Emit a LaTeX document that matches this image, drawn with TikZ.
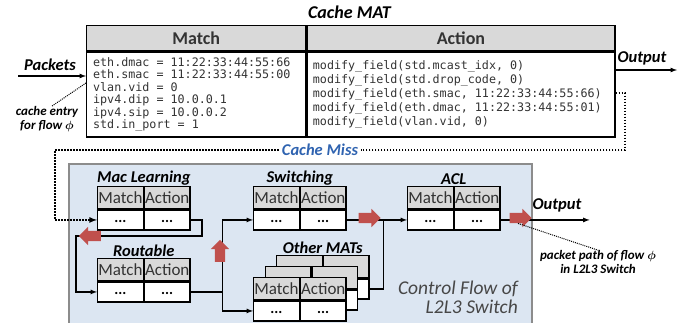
\documentclass[tikz,border=0pt]{standalone}
\usepackage{amsmath}
\usepackage{fontspec}
\setmainfont{Carlito}
\newfontfamily\codefont{DejaVu Sans Mono}
\usetikzlibrary{calc,arrows,shapes,positioning}
\definecolor{hdgray}{HTML}{D9D9D9}
\definecolor{boxblue}{HTML}{DCE6F2}
\definecolor{boxgray}{HTML}{8C8C8C}
\definecolor{arrred}{HTML}{C0504D}
\definecolor{missblue}{HTML}{2F63B0}
\definecolor{txtgray}{HTML}{333333}
\tikzset{
  hcell/.style={draw,line width=1.3pt,fill=hdgray,minimum width=45.5,minimum height=22,inner sep=0pt,text=txtgray,font=\fontsize{17}{17}\selectfont},
  bcell/.style={draw,line width=1.3pt,fill=white,minimum width=45.5,minimum height=20,inner sep=0pt,text height=6pt,text depth=0pt,font=\bfseries\fontsize{15}{15}\selectfont},
  bighead/.style={draw,line width=1.3pt,fill=hdgray,minimum height=25,inner sep=0pt,text=txtgray,font=\bfseries\fontsize{18}{18}\selectfont},
  codebox/.style={draw,line width=1.3pt,fill=white,minimum height=85,inner ysep=0pt,align=flush left,text=txtgray},
  lbl/.style={inner sep=1pt,font=\bfseries\itshape\fontsize{16.5}{16.5}\selectfont},
  note/.style={inner sep=0pt,align=center,font=\bfseries\itshape\fontsize{13}{14}\selectfont},
  flow/.style={line width=1.2pt,-latex},
  link/.style={line width=1.2pt},
  dotline/.style={line width=1.6pt,dash pattern=on 1.6pt off 1.4pt},
  redarr/.style={single arrow,fill=arrred,minimum height=22,single arrow head extend=4pt,inner xsep=0pt,inner ysep=5pt}
}
\newcommand{\mattab}[3]{%
  \node[hcell,anchor=north west] (#1m) at (#2,#3) {Match};
  \node[hcell,anchor=north west] (#1a) at (#1m.north east) {Action};
  \node[bcell,anchor=north] (#1bm) at (#1m.south) {...};
  \node[bcell,anchor=north] (#1ba) at (#1a.south) {...};
}
\newcommand{\backtab}[3]{%
  \node[hcell,anchor=north west] (#1m) at (#2,#3) {};
  \node[hcell,anchor=north west] (#1a) at (#1m.north east) {};
  \node[bcell,anchor=north] (#1bm) at (#1m.south) {};
  \node[bcell,anchor=north] (#1ba) at (#1a.south) {};
}
\begin{document}
\begin{tikzpicture}[x=1pt,y=-1pt]
  \useasboundingbox (0,0) rectangle (683,322);
  \node[draw=boxgray,line width=2pt,fill=boxblue,minimum width=463,minimum height=180,inner sep=0pt,anchor=north west] (cf) at (68,163) {};
  \node[anchor=east,align=right,inner sep=0pt,text=black!72,font=\itshape\fontsize{19.5}{19}\selectfont] (cft) at (518,297.5) {Control Flow of\\L2L3 Switch};

  \node[lbl,font=\bfseries\itshape\fontsize{18}{18}\selectfont] (ttl) at (349.5,12) {Cache MAT};
  \node[bighead,minimum width=219,anchor=north west] (cm) at (86,25) {Match};
  \node[bighead,minimum width=308,anchor=north west] (ca) at (cm.north east) {Action};
  \node[codebox,anchor=north,inner xsep=6.5pt,text width=206pt,font={\codefont\fontsize{11.7}{12.4}\selectfont}] (cbm) at (cm.south)
    {eth.dmac = 11:22:33:44:55:66\\eth.smac = 11:22:33:44:55:00\\vlan.vid = 0\\ipv4.dip = 10.0.0.1\\ipv4.sip = 10.0.0.2\\std.in\_port = 1};
  \node[codebox,anchor=north,inner xsep=6pt,text width=296pt,font={\codefont\fontsize{11.7}{14.2}\selectfont}] (cba) at (ca.south)
    {modify\_field(std.mcast\_idx, 0)\\modify\_field(std.drop\_code, 0)\\modify\_field(eth.smac, 11:22:33:44:55:66)\\modify\_field(eth.dmac, 11:22:33:44:55:01)\\modify\_field(vlan.vid, 0)};

  \node[lbl] (pk) at (50,65) {Packets};
  \coordinate (pin) at (18,76);
  \draw[flow] (pin) -- (pin -| cbm.west);
  \node[note] (ce) at (47,119) {cache entry\\for flow $\boldsymbol{\phi}$};
  \draw[line width=1pt,dash pattern=on 1pt off 1pt] (cbm.west |- 0,83) -- ([xshift=5pt]ce.north);
  \node[lbl] (out1) at (642,58) {Output};
  \coordinate (pout) at (677,70);
  \draw[flow] (pout -| cba.east) -- (pout);

  \node[lbl,text=missblue,inner sep=3pt] (miss) at (320,150) {Cache Miss};
  \coordinate (m1) at (625,93);
  \coordinate (m2) at (55,150);
  \draw[dotline] (m1 -| cba.east) -- (m1) |- (miss.east);

  \mattab{ml}{97}{186}
  \mattab{rt}{97}{258}
  \mattab{sw}{253}{186}
  \mattab{acl}{407}{186}
  \backtab{om3}{276}{255}
  \backtab{om2}{264.5}{266}
  \mattab{om1}{253}{277}
  \node[lbl,above=0pt of mlm.north east] (mll) {Mac Learning};
  \node[lbl,above=0pt of rtm.north east] (rtl) {Routable};
  \node[lbl,above=0pt of swm.north east] (swl) {Switching};
  \node[lbl,above=0pt of aclm.north east] (acll) {ACL};
  \node[lbl,above=0pt of om3m.north east] (oml) {Other MATs};

  \draw[dotline,-latex] (miss.west) -- (m2) |- (mlbm.west);

  \coordinate (t1) at (202,236);
  \draw[flow] (mlba.east) -| (t1) -| ([xshift=-21pt]rtbm.west) -- (rtbm.west);
  \coordinate (j1) at ($(rtba.east)+(32,0)$);
  \draw[link] (rtba.east) -- (j1);
  \draw[flow] (j1) |- (swbm.west);
  \draw[flow] (j1) |- (om1bm.west);
  \coordinate (j2) at ($(swba.east)+(37,0)$);
  \draw[link] (swba.east) -- (j2);
  \draw[link] (om3ba.east) -| (j2);
  \draw[flow] (j2) -- (aclbm.west);
  \coordinate (lout) at ($(aclba.east)+(89,0)$);
  \draw[flow] (aclba.east) -- (lout);
  \node[lbl] (out2) at (557,205) {Output};

  \node[redarr,shape border rotate=180] (ra1) at (92.5,236) {};
  \node[redarr,shape border rotate=90,inner xsep=5pt,inner ysep=0pt] (ra2) at (220,253.5) {};
  \node[redarr] (ra3) at (367,218) {};
  \node[redarr] (ra4) at (518,218) {};

  \node[note] (pp) at (598,262) {packet path of flow $\boldsymbol{\phi}$\\in L2L3 Switch};
  \draw[line width=1pt,dash pattern=on 1pt off 1pt] (ra4.south) -- (pp.north);
\end{tikzpicture}
\end{document}
